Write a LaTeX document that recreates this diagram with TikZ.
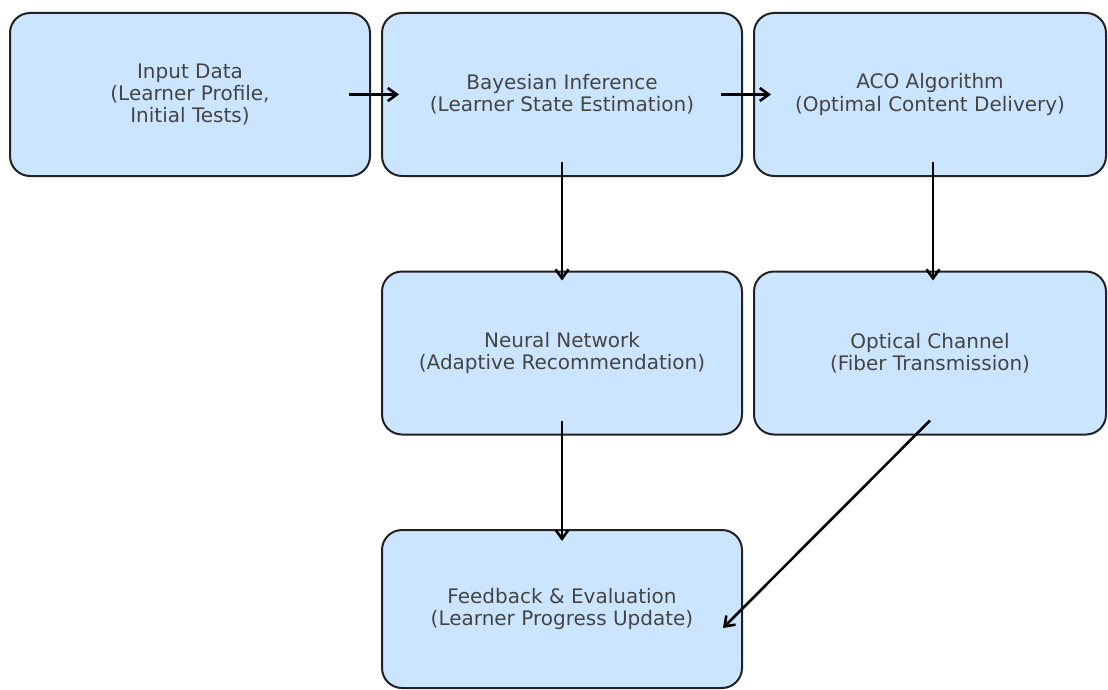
\documentclass[tikz,border=0pt]{standalone}
\usepackage{fontspec}
\setmainfont{DejaVu Sans}
\usetikzlibrary{arrows.meta,calc}
\definecolor{boxfill}{HTML}{CCE5FF}
\definecolor{boxline}{HTML}{222222}
\definecolor{boxtext}{HTML}{444444}
\tikzset{
  stage/.style={draw=boxline, line width=2pt, fill=boxfill, rounded corners=20pt,
    minimum width=360pt, minimum height=163pt, inner sep=0pt,
    align=center, text=boxtext,
    font=\fontsize{20}{22.2}\selectfont},
  flow/.style={draw=black, line width=2.6pt,
    -{Straight Barb[length=9pt,width=13pt,line width=2.6pt]}}
}
\begin{document}
\begin{tikzpicture}[x=1pt,y=-1pt]
  \useasboundingbox (0,0) rectangle (1108,690);
  % stages of the pipeline
  \node[stage] (input) at (190,94.5) {Input Data\\(Learner Profile,\\Initial Tests)};
  \node[stage] (bayes) at (562,94.5) {Bayesian Inference\\(Learner State Estimation)};
  \node[stage, minimum width=352pt] (aco) at (930,94.5) {ACO Algorithm\\(Optimal Content Delivery)};
  \node[stage] (nn) at (562,353) {Neural Network\\(Adaptive Recommendation)};
  \node[stage, minimum width=352pt] (optic) at (930,353) {Optical Channel\\(Fiber Transmission)};
  \node[stage, minimum height=158pt] (feed) at (562,609) {Feedback \& Evaluation\\(Learner Progress Update)};
  % connectors
  \draw[flow] ($(input.east)+(-22,0)$) -- ($(bayes.west)+(18,0)$);
  \draw[flow] ($(bayes.east)+(-22,0)$) -- ($(aco.west)+(18,0)$);
  \draw[flow] ($(bayes.south)+(0,-15)$) -- ($(nn.north)+(0,10)$);
  \draw[flow] ($(aco.south)+(3,-15)$) -- ($(optic.north)+(3,10)$);
  \draw[flow] ($(nn.south)+(0,-15)$) -- ($(feed.north)+(0,12)$);
  \draw[flow] ($(optic.south)+(0,-15)$) -- ($(feed.east)+(-20,19)$);
\end{tikzpicture}
\end{document}
